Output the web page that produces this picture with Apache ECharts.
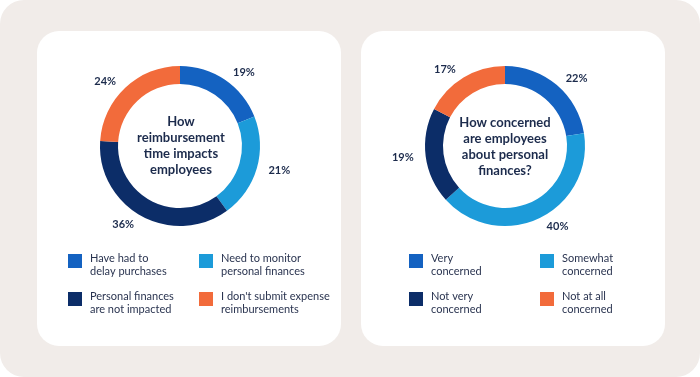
<!DOCTYPE html>
<html>
<head>
<meta charset="utf-8">
<style>
  html, body { margin: 0; padding: 0; background: #ffffff; }
  #chart { width: 700px; height: 377px; }
</style>
<script src="https://cdn.jsdelivr.net/npm/echarts@6/dist/echarts.min.js"></script>
</head>
<body>
<div id="chart"></div>
<script>
// ---- data ----
const impactCategories = ['Have had to delay purchases', 'Need to monitor personal finances', 'Personal finances are not impacted', "I don't submit expense reimbursements"];
const impactLegendLabels = ['Have had to\ndelay purchases', 'Need to monitor\npersonal finances', 'Personal finances\nare not impacted', "I don't submit expense\nreimbursements"];
const impactValues = [19, 21, 36, 24];
const impactTitle = 'How\nreimbursement\ntime impacts\nemployees';

const concernCategories = ['Very concerned', 'Somewhat concerned', 'Not very concerned', 'Not at all concerned'];
const concernLegendLabels = ['Very\nconcerned', 'Somewhat\nconcerned', 'Not very\nconcerned', 'Not at all\nconcerned'];
const concernValues = [22, 40, 19, 17];
const concernTitle = 'How concerned\nare employees\nabout personal\nfinances?';

const sliceColors = ['#1462c1', '#1c9bd9', '#0c2d68', '#f26b3b'];

// ---- chart ----
const chart = echarts.init(document.getElementById('chart'), null, { renderer: 'canvas' });
const textColor = '#1c2b4c';
const labelMap = {};
impactCategories.forEach((c, i) => labelMap[c] = impactLegendLabels[i]);
concernCategories.forEach((c, i) => labelMap[c] = concernLegendLabels[i]);

function pieSeries(name, cats, vals, cx) {
  return {
    type: 'pie',
    name: name,
    center: [cx, 146],
    radius: [62, 80],
    startAngle: 90,
    clockwise: true,
    avoidLabelOverlap: false,
    silent: true,
    label: {
      show: true,
      position: 'outside',
      formatter: '{c}%',
      color: textColor,
      fontFamily: 'Lato',
      fontWeight: 'bold',
      fontSize: 11,
      distanceToLabelLine: 3
    },
    labelLine: { show: false, length: 9, length2: 0 },
    itemStyle: { borderWidth: 0 },
    data: cats.map((c, i) => ({ name: c, value: vals[i], itemStyle: { color: sliceColors[i] } }))
  };
}

function legendCol(left, names) {
  return {
    orient: 'vertical',
    left: left,
    top: 246,
    padding: 0,
    itemWidth: 14,
    itemHeight: 14,
    itemGap: 7,
    icon: 'rect',
    selectedMode: false,
    data: names,
    formatter: n => '{g| }\n' + labelMap[n].split('\n').map(s => '{t|' + s + '}').join('\n'),
    textStyle: {
      fontFamily: 'Lato',
      fontSize: 11,
      color: '#2a3450',
      rich: {
        g: { fontSize: 4, lineHeight: 8, padding: [0, 0, 0, 3] },
        t: { fontFamily: 'Lato', fontSize: 11, lineHeight: 13, color: '#2a3450', padding: [0, 0, 0, 3] }
      }
    }
  };
}

const option = {
  animation: false,
  graphic: [
    { type: 'rect', shape: { x: 0, y: 0, width: 700, height: 377, r: 24 }, style: { fill: '#f1ece9' }, z: -10 },
    { type: 'rect', shape: { x: 37, y: 31, width: 304, height: 315, r: 22 }, style: { fill: '#ffffff' }, z: -9 },
    { type: 'rect', shape: { x: 361, y: 31, width: 304, height: 315, r: 22 }, style: { fill: '#ffffff' }, z: -9 },
    { type: 'text', x: 181, y: 146, style: { text: impactTitle, align: 'center', verticalAlign: 'middle', fill: textColor, font: 'bold 13px Lato', lineHeight: 16 } },
    { type: 'text', x: 505, y: 147, style: { text: concernTitle, align: 'center', verticalAlign: 'middle', fill: textColor, font: 'bold 13px Lato', lineHeight: 16 } }
  ],
  legend: [
    legendCol(68, [impactCategories[0], impactCategories[2]]),
    legendCol(199, [impactCategories[1], impactCategories[3]]),
    legendCol(409, [concernCategories[0], concernCategories[2]]),
    legendCol(540, [concernCategories[1], concernCategories[3]])
  ],
  series: [
    pieSeries('impact', impactCategories, impactValues, 180),
    pieSeries('concern', concernCategories, concernValues, 505)
  ]
};
chart.setOption(option);
</script>
</body>
</html>
